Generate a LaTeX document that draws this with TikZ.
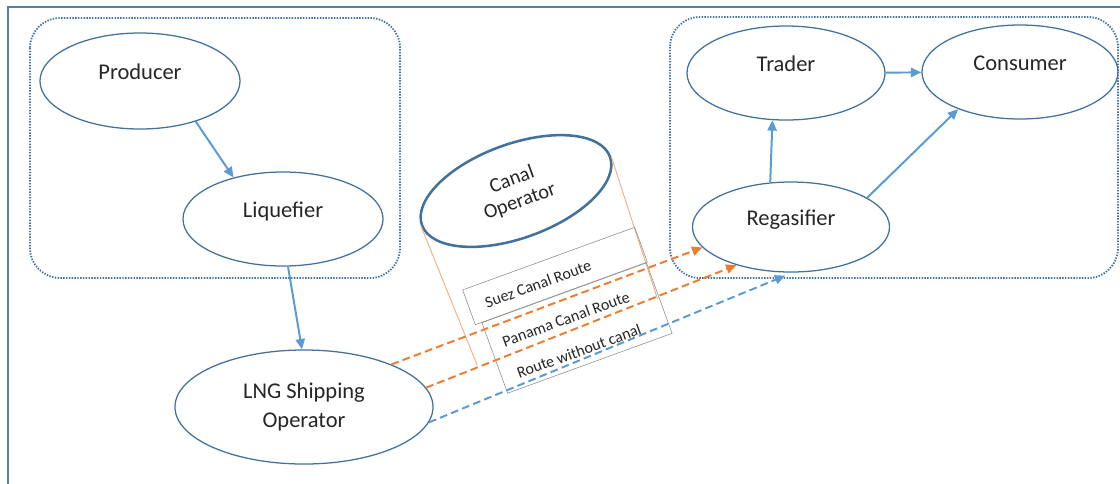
\documentclass[tikz,border=0pt]{standalone}
\usepackage{fontspec}
\setmainfont{Carlito}
\usetikzlibrary{arrows.meta,shapes.geometric}

\definecolor{outline}{HTML}{41719C}
\definecolor{flowblue}{HTML}{5B9BD5}
\definecolor{routeorange}{HTML}{ED7D31}
\definecolor{canalside}{HTML}{F4B183}

\begin{document}
\begin{tikzpicture}[x=0.025cm, y=-0.025cm,
    actor/.style={ellipse, draw=outline, line width=0.9pt, inner sep=0pt,
        text=black!85, font=\fontsize{16}{20}\selectfont},
    toptext/.style={text height=11pt, text depth=12.6pt},
    flow/.style={flowblue, line width=1.4pt, -{Triangle[length=2.6mm,width=2.3mm]}},
    route/.style={line width=1.4pt, dash pattern=on 5.5pt off 3pt,
        -{Triangle[length=2.6mm,width=2.3mm]}},
    group/.style={outline, line width=1.3pt, dash pattern=on 1pt off 1pt,
        rounded corners=0.75cm},
    routebox/.style={draw=black!45, line width=0.4pt, rotate=20, inner sep=0pt},
    routetext/.style={rotate=20, text=black!85, font=\fontsize{11.4}{13}\selectfont}]

    \useasboundingbox (0,0) rectangle (1120,483);
    \draw[outline!90, line width=1.5pt] (1130,7) -- (8,7) -- (8,490);

    % export side and import side
    \draw[group] (30,18) rectangle (400,278);
    \draw[group] (670,17) rectangle (1118,278);

    \node[actor, toptext, minimum width=5cm, minimum height=2.4cm] (producer) at (140,81) {Producer};
    \node[actor, toptext, minimum width=5cm, minimum height=2.35cm] (liquefier) at (283,219) {Liquefier};
    \node[actor, align=center, minimum width=6.45cm, minimum height=2.85cm] (lng) at (304,407) {LNG Shipping\\Operator};
    \node[actor, toptext, minimum width=4.95cm, minimum height=2.35cm] (trader) at (786,73) {Trader};
    \node[actor, toptext, minimum width=4.9cm, minimum height=2.35cm] (consumer) at (1020,72) {Consumer};
    \node[actor, toptext, minimum width=4.925cm, minimum height=2.25cm] (regas) at (791,227) {Regasifier};

    % canal operator as a tilted drum
    \node[actor, rotate=20, line width=1.8pt, align=center, minimum width=5cm, minimum height=2.35cm,
        font=\fontsize{14.5}{16.5}\selectfont] (canal) at (516,191) {Canal\\Operator};
    \draw[canalside, line width=0.7pt] (canal.west) -- ++(68:150);
    \draw[canalside, line width=0.7pt] (canal.east) -- ++(72:150);

    \node[routebox, minimum width=4.575cm, minimum height=0.925cm] (suezbox) at (555,276) {};
    \node[routebox, minimum width=4.375cm, minimum height=1.875cm] (lowbox) at (577,328) {};
    \node[routetext] (suez) at (538,284) {Suez Canal Route};
    \node[routetext] (panama) at (566,319) {Panama Canal Route};
    \node[routetext] (nocanal) at (579,351) {Route without canal};

    % flows
    \draw[flow] (producer.-36) -- (liquefier.140);
    \draw[flow] (liquefier.-84) -- (lng.92);
    \draw[flow] (trader) -- (consumer);
    \draw[flow] (regas.115) -- (trader.254);
    \draw[flow] (regas.21) -- (consumer.211);

    % shipping routes
    \draw[route, routeorange] (lng.26) -- (regas.193);
    \draw[route, routeorange] (lng.9) -- (regas.215);
    \draw[route, flowblue, shorten >=2mm] (lng.-7) -- (regas.272);
\end{tikzpicture}
\end{document}
